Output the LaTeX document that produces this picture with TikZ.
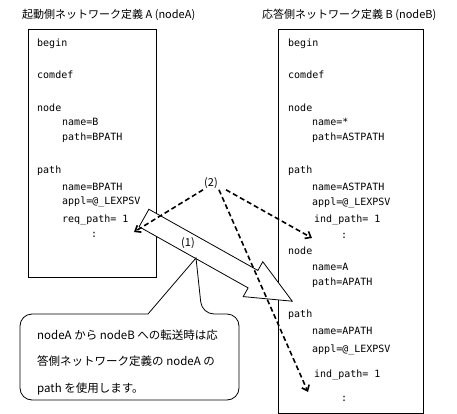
\documentclass[tikz,border=0pt]{standalone}
\usepackage{fontspec}
\setmainfont{Noto Sans CJK JP}
\newfontfamily\codefont{DejaVu Sans Mono}
\usetikzlibrary{arrows.meta}
\tikzstyle{frame}=[draw, line width=0.8pt, anchor=north west, inner sep=0pt]
\tikzstyle{title}=[anchor=west, inner sep=0pt, font=\fontsize{11}{13}\selectfont]
\tikzstyle{code}=[anchor=west, inner sep=0pt, font=\codefont\fontsize{10}{12}\selectfont]
\tikzstyle{numlabel}=[inner sep=1pt, font=\fontsize{11}{13}\selectfont]
\tikzstyle{refarrow}=[-{Straight Barb[length=5pt,width=8pt]}, line width=1.6pt, dash pattern=on 5pt off 3pt]
\tikzstyle{bigarrow}=[draw, fill=white, line width=0.8pt, line join=miter]
\tikzstyle{balloon}=[draw, fill=white, line width=0.8pt]
\tikzstyle{note}=[anchor=west, inner sep=0pt, align=left, font=\fontsize{11.5}{26.5}\selectfont]

\begin{document}
\begin{tikzpicture}[x=1pt, y=-1pt]

    \useasboundingbox (0,0) rectangle (457,414);

    % NODE A
    \node[title] (titleA) at (22,15) {起動側ネットワーク定義 A (nodeA)};
    \node[frame, minimum width=128pt, minimum height=248pt] (boxA) at (28,29) {};
    \node[code] (beginA) at (37,44) {begin};
    \node[code] (comdefA) at (37,75) {comdef};
    \node[code] (nodeA) at (37,108) {node};
    \node[code] (nameA1) at (62,122) {name=B};
    \node[code] (pathA1) at (62,138) {path=BPATH};
    \node[code] (pathA) at (37,171) {path};
    \node[code] (nameA2) at (62,187) {name=BPATH};
    \node[code] (applA) at (62,202) {appl=@\_LEXPSV};
    \node[code] (reqA) at (62,220) {req\_path= 1};
    \node[code] (dotsA) at (91,235) {:};

    % NODE B
    \node[title] (titleB) at (262,15) {応答側ネットワーク定義 B (nodeB)};
    \node[frame, minimum width=145pt, minimum height=384pt] (boxB) at (278,29) {};
    \node[code] (beginB) at (288,44) {begin};
    \node[code] (comdefB) at (288,75) {comdef};
    \node[code] (nodeB1) at (288,108) {node};
    \node[code] (nameB1) at (312,122) {name=*};
    \node[code] (pathB1) at (312,138) {path=ASTPATH};
    \node[code] (pathB) at (288,171) {path};
    \node[code] (nameB2) at (312,187) {name=ASTPATH};
    \node[code] (applB1) at (312,203) {appl=@\_LEXPSV};
    \node[code] (indB1) at (314,220) {ind\_path= 1};
    \node[code] (dotsB1) at (341,236) {:};
    \node[code] (nodeB2) at (288,251) {node};
    \node[code] (nameB3) at (312,267) {name=A};
    \node[code] (pathB3) at (312,283) {path=APATH};
    \node[code] (pathB2) at (288,315) {path};
    \node[code] (nameB4) at (312,331) {name=APATH};
    \node[code] (applB2) at (312,350) {appl=@\_LEXPSV};
    \node[code] (indB2) at (314,375) {ind\_path= 1};
    \node[code] (dotsB2) at (341,399) {:};

    % TRANSFER
    \draw[bigarrow, shift={(144,218)}, rotate=-29.3]
        (0,-10) -- (125,-10) -- (125,-20) -- (170,0) -- (125,20) -- (125,10) -- (0,10) -- cycle;
    \node[numlabel] (lbl1) at (188,243) {(1)};

    % BALLOON
    \draw[balloon] (100,314) [rounded corners=12pt] -- (20,314) -- (20,400) -- (239,400) -- (239,314)
        -- (202,314) [sharp corners] -- (196,258) -- (148,314) -- cycle;
    \node[note] (noteText) at (37,362) {nodeA から nodeB への転送時は応\\答側ネットワーク定義の nodeA の\\path を使用します。};

    % REFERENCES
    \node[numlabel] (lbl2) at (211,183) {(2)};
    \coordinate (endReq) at (134,232);
    \coordinate (endInd1) at (312,238);
    \coordinate (endInd2) at (308,392);
    \draw[refarrow] (lbl2.south west) -- (endReq);
    \draw[refarrow] (lbl2.south east) -- (endInd2);
    \draw[refarrow] ([xshift=7pt]lbl2.south east) -- (endInd1);

\end{tikzpicture}
\end{document}
